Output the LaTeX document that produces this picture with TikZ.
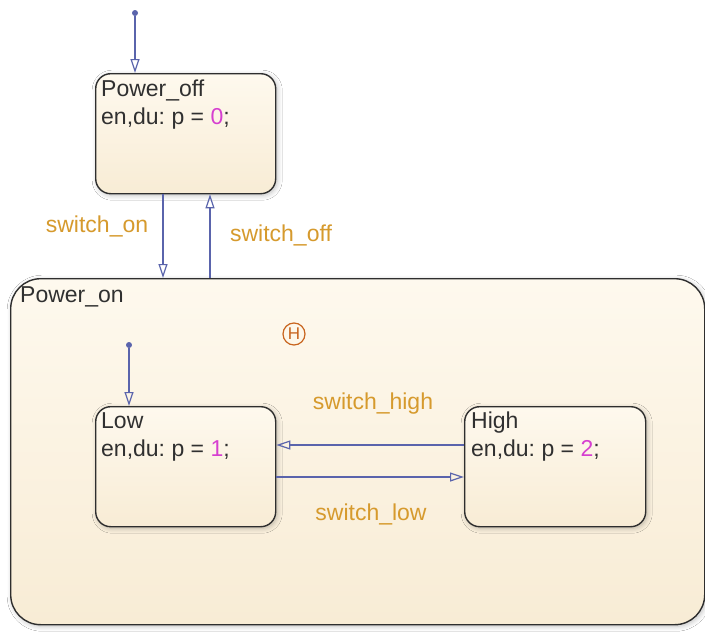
\documentclass[tikz,border=0pt]{standalone}
\usepackage{fontspec}
\setmainfont{Liberation Sans}
\usetikzlibrary{arrows.meta,shadows.blur}
\definecolor{boxline}{HTML}{2E2E2E}
\definecolor{boxtop}{HTML}{FEF9EE}
\definecolor{boxbot}{HTML}{F8ECD5}
\definecolor{trcol}{HTML}{5A64AC}
\definecolor{lblcol}{HTML}{D69A2D}
\definecolor{txtcol}{HTML}{303030}
\definecolor{numcol}{HTML}{D63FD0}
\definecolor{histcol}{HTML}{C8641E}
\tikzset{
  statebox/.style={draw=boxline, line width=1.4pt, rounded corners=15pt,
    top color=boxtop, bottom color=boxbot, inner sep=0pt,
    blur shadow={shadow xshift=1.5pt, shadow yshift=-1.5pt, shadow blur radius=5pt, shadow opacity=25, shadow blur steps=8}},
  bigbox/.style={statebox, rounded corners=30pt},
  stext/.style={anchor=north west, inner sep=0pt, text=txtcol, font=\fontsize{23}{28}\selectfont\frenchspacing, align=left},
  trans/.style={draw=trcol, line width=1.3pt, -{Triangle[open, length=14pt, width=9pt, line width=1.2pt]}},
  lbl/.style={text=lblcol, font=\fontsize{23}{24}\selectfont, inner sep=0pt},
  dotn/.style={circle, fill=trcol, inner sep=0pt, minimum size=6pt}
}
\newcommand{\num}[1]{\textcolor{numcol}{#1}}
\begin{document}
\begin{tikzpicture}[x=1pt,y=-1pt]
\useasboundingbox (0,0) rectangle (705,632);
\fill[white] (0,0) rectangle (705,632);
% states
\node[bigbox, minimum width=694pt, minimum height=346pt, anchor=north west] (pon) at (10,278) {};
\node[statebox, minimum width=180pt, minimum height=120pt, anchor=north west] (poff) at (95,73) {};
\node[statebox, minimum width=180pt, minimum height=120pt, anchor=north west] (low) at (95,406) {};
\node[statebox, minimum width=181pt, minimum height=120pt, anchor=north west] (high) at (464,406) {};
% texts
\node[stext] (poffT) at (101,80) {Power\_off\\en,du: p = \num{0};};
\node[stext] (ponT) at (20,286) {Power\_on};
\node[stext] (lowT) at (101,412) {Low\\en,du: p = \num{1};};
\node[stext] (highT) at (471,412) {High\\en,du: p = \num{2};};
% history junction
\node[circle, draw=histcol, line width=1.2pt, minimum size=22pt, inner sep=0pt, text=histcol, font=\fontsize{17}{17}\selectfont] (hist) at (294,334) {H};
% default transitions
\node[dotn] (d0) at (135,13) {};
\node[dotn] (d1) at (129,345) {};
\draw[trans] (d0) -- (d0 |- poff.north);
\draw[trans] (d1) -- (d1 |- low.north);
% switch on / off
\coordinate (xon) at (163,0);
\coordinate (xoff) at (210,0);
\draw[trans] (xon |- poff.south) -- (xon |- pon.north);
\draw[trans] (xoff |- pon.north) -- (xoff |- poff.south);
% switch high / low
\coordinate (yh) at (0,445);
\coordinate (yl) at (0,477);
\draw[trans] (high.west |- yh) -- (low.east |- yh);
\draw[trans] (low.east |- yl) -- (high.west |- yl);
% labels
\node[lbl] (lon) at (97,226) {switch\_on};
\node[lbl] (loff) at (281,235) {switch\_off};
\node[lbl] (lhigh) at (373,404) {switch\_high};
\node[lbl] (llow) at (371,514) {switch\_low};
\end{tikzpicture}
\end{document}
